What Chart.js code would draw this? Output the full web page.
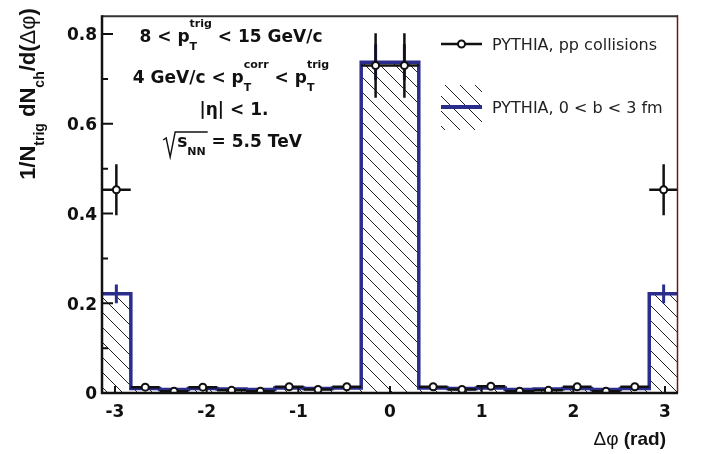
<!DOCTYPE html>
<html>
<head>
<meta charset="utf-8">
<script src="https://cdn.jsdelivr.net/npm/chart.js@4.4.1/dist/chart.umd.min.js"></script>
<style>
    body { margin: 0; background: #fff; }
</style>
</head>
<body>
<canvas id="dphiChart" width="701" height="454"></canvas>
<script>
//-----------Данные-----------
// центры бинов по dphi (20 бинов от -pi до pi)
const binCenters = [-2.985, -2.670, -2.356, -2.042, -1.728, -1.414, -1.100, -0.785, -0.471, -0.157,
                     0.157,  0.471,  0.785,  1.100,  1.414,  1.728,  2.042,  2.356,  2.670,  2.985];
const binHalfWidth = 0.157;

// PYTHIA, pp
const ppValues = [0.453, 0.013, 0.004, 0.013, 0.006, 0.004, 0.014, 0.008, 0.014, 0.730,
                  0.730, 0.014, 0.008, 0.015, 0.004, 0.006, 0.014, 0.004, 0.014, 0.453];
const ppErrors = [0.057, 0.003, 0.003, 0.003, 0.003, 0.003, 0.003, 0.003, 0.003, 0.072,
                  0.072, 0.003, 0.003, 0.003, 0.003, 0.003, 0.003, 0.003, 0.003, 0.057];

// PYTHIA, 0 < b < 3 fm (гистограмма)
const centralValues = [0.221, 0.010, 0.008, 0.010, 0.009, 0.008, 0.011, 0.010, 0.011, 0.737,
                       0.737, 0.011, 0.010, 0.011, 0.008, 0.009, 0.010, 0.008, 0.010, 0.221];
const centralErrors = [0.021, 0.002, 0.002, 0.002, 0.002, 0.002, 0.002, 0.002, 0.002, 0.040,
                       0.040, 0.002, 0.002, 0.002, 0.002, 0.002, 0.002, 0.002, 0.002, 0.021];

// метки осей
const xTickValues = [-3, -2, -1, 0, 1, 2, 3];
const yTickValues = [0, 0.2, 0.4, 0.6, 0.8];
const yMinorTicks = [0.1, 0.3, 0.5, 0.7];

const BLUE = '#2b2d8c';
const INK = '#111';
const BOLD = 'bold 17px "DejaVu Sans"';
const BOLD_SMALL = 'bold 11px "DejaVu Sans"';

//-----------Штриховка-----------
function makeHatch() {
    const s = 15;
    const c = document.createElement('canvas');
    c.width = s; c.height = s;
    const g = c.getContext('2d');
    g.strokeStyle = '#222';
    g.lineWidth = 1;
    for (let k = -1; k <= 1; k++) {
        g.beginPath();
        g.moveTo(k * s, 0);
        g.lineTo(k * s + s, s);
        g.stroke();
    }
    return g.createPattern(c, 'repeat');
}
const hatch = makeHatch();

// точки ступенчатой гистограммы по краям бинов
const histPoints = binCenters.map((c, i) => ({x: c - binHalfWidth, y: centralValues[i]}));
histPoints.push({x: binCenters[binCenters.length - 1] + binHalfWidth, y: centralValues[centralValues.length - 1]});

const ppPoints = binCenters.map((c, i) => ({x: c, y: ppValues[i]}));

//-----------Текст с индексами-----------
function runWidth(ctx, r) {
    if (r.gap) return r.gap;
    ctx.font = r.f;
    if (r.sup !== undefined) return Math.max(ctx.measureText(r.sup).width, ctx.measureText(r.sub || '').width);
    return ctx.measureText(r.t).width;
}

function drawRuns(ctx, x, y, runs, align) {
    const widths = runs.map(r => runWidth(ctx, r));
    const total = widths.reduce((a, b) => a + b, 0);
    let cx = align === 'center' ? x - total / 2 : (align === 'right' ? x - total : x);
    const pos = [];
    ctx.textAlign = 'left';
    ctx.textBaseline = 'alphabetic';
    runs.forEach((r, i) => {
        pos.push(cx);
        if (!r.gap) {
            ctx.font = r.f;
            if (r.sup !== undefined) {
                ctx.fillText(r.sup, cx, y + r.up);
                if (r.sub) ctx.fillText(r.sub, cx, y + r.down);
            } else {
                ctx.fillText(r.t, cx, y + (r.dy || 0));
            }
        }
        cx += widths[i];
    });
    pos.push(cx);
    return pos;
}

//-----------Плагин: рамка, засечки, ошибки, подписи-----------
const decorPlugin = {
    id: 'decor',
    afterDatasetDraw(chart, args) {
        if (args.index !== 1) return;
        const ctx = chart.ctx;
        const xs = chart.scales.x, ys = chart.scales.y;
        const a = chart.chartArea;
        ctx.save();
        ctx.beginPath();
        ctx.rect(a.left, a.top, a.right - a.left, a.bottom - a.top);
        ctx.clip();
        ctx.lineCap = 'butt';
        // ошибки гистограммы
        ctx.strokeStyle = BLUE;
        ctx.lineWidth = 3;
        binCenters.forEach((c, i) => {
            const px = xs.getPixelForValue(c);
            ctx.beginPath();
            ctx.moveTo(px, ys.getPixelForValue(centralValues[i] - centralErrors[i]));
            ctx.lineTo(px, ys.getPixelForValue(centralValues[i] + centralErrors[i]));
            ctx.stroke();
        });
        // ошибки pp
        ctx.strokeStyle = INK;
        ctx.lineWidth = 2.5;
        binCenters.forEach((c, i) => {
            const px = xs.getPixelForValue(c);
            const py = ys.getPixelForValue(ppValues[i]);
            ctx.beginPath();
            ctx.moveTo(px, ys.getPixelForValue(ppValues[i] - ppErrors[i]));
            ctx.lineTo(px, ys.getPixelForValue(ppValues[i] + ppErrors[i]));
            ctx.moveTo(xs.getPixelForValue(c - binHalfWidth), py);
            ctx.lineTo(xs.getPixelForValue(c + binHalfWidth), py);
            ctx.stroke();
        });
        ctx.restore();
    },
    afterDraw(chart) {
        const ctx = chart.ctx;
        const xs = chart.scales.x, ys = chart.scales.y;
        const a = chart.chartArea;
        ctx.save();

        // рамка
        ctx.strokeStyle = '#333';
        ctx.lineWidth = 2;
        ctx.beginPath();
        ctx.moveTo(a.left, a.top + 1);
        ctx.lineTo(a.right, a.top + 1);
        ctx.stroke();
        ctx.strokeStyle = '#6b1818';
        ctx.lineWidth = 1.5;
        ctx.beginPath();
        ctx.moveTo(a.right - 0.5, a.top);
        ctx.lineTo(a.right - 0.5, a.bottom);
        ctx.stroke();
        ctx.strokeStyle = INK;
        ctx.lineWidth = 2.5;
        ctx.beginPath();
        ctx.moveTo(a.left, a.top);
        ctx.lineTo(a.left, a.bottom);
        ctx.lineTo(a.right, a.bottom);
        ctx.stroke();

        // засечки внутрь
        ctx.lineWidth = 2;
        ctx.beginPath();
        yTickValues.forEach(v => {
            const py = ys.getPixelForValue(v);
            ctx.moveTo(a.left, py); ctx.lineTo(a.left + 11, py);
        });
        yMinorTicks.forEach(v => {
            const py = ys.getPixelForValue(v);
            ctx.moveTo(a.left, py); ctx.lineTo(a.left + 6, py);
        });
        xTickValues.forEach(v => {
            const px = xs.getPixelForValue(v);
            ctx.moveTo(px, a.bottom); ctx.lineTo(px, a.bottom - 7);
        });
        ctx.stroke();

        // надписи с условиями
        ctx.fillStyle = INK;
        const cx = 231;
        drawRuns(ctx, cx, 42, [
            {t: '8 < p', f: BOLD},
            {sup: 'trig', sub: 'T', f: BOLD_SMALL, up: -15, down: 8},
            {t: ' < 15 GeV/c', f: BOLD}
        ], 'center');
        drawRuns(ctx, cx, 83, [
            {t: '4 GeV/c < p', f: BOLD},
            {sup: 'corr', sub: 'T', f: BOLD_SMALL, up: -15, down: 8},
            {t: ' < p', f: BOLD},
            {sup: 'trig', sub: 'T', f: BOLD_SMALL, up: -15, down: 8}
        ], 'center');
        drawRuns(ctx, cx + 3, 115, [{t: '|η| < 1.', f: BOLD}], 'center');
        const p4 = drawRuns(ctx, cx + 1, 147, [
            {gap: 15},
            {t: 's', f: BOLD},
            {t: 'NN', f: BOLD_SMALL, dy: 8},
            {t: ' = 5.5 TeV', f: BOLD}
        ], 'center');
        // знак корня
        ctx.strokeStyle = INK;
        ctx.lineWidth = 1.4;
        ctx.beginPath();
        ctx.moveTo(p4[0] + 1, 140);
        ctx.lineTo(p4[0] + 4, 138);
        ctx.lineTo(p4[0] + 8, 157);
        ctx.lineTo(p4[0] + 13, 132);
        ctx.lineTo(p4[3] + 2, 132);
        ctx.stroke();

        // легенда
        ctx.lineWidth = 2.5;
        ctx.strokeStyle = INK;
        ctx.beginPath();
        ctx.moveTo(441, 44); ctx.lineTo(482, 44);
        ctx.stroke();
        ctx.beginPath();
        ctx.arc(461.5, 44, 3.5, 0, Math.PI * 2);
        ctx.fillStyle = '#fff';
        ctx.fill();
        ctx.lineWidth = 2;
        ctx.stroke();
        ctx.fillStyle = hatch;
        ctx.fillRect(441, 85, 41, 45);
        ctx.strokeStyle = BLUE;
        ctx.lineWidth = 4;
        ctx.beginPath();
        ctx.moveTo(441, 107); ctx.lineTo(482, 107);
        ctx.stroke();
        ctx.fillStyle = '#222';
        ctx.font = '16px "DejaVu Sans"';
        ctx.textAlign = 'left';
        ctx.textBaseline = 'alphabetic';
        ctx.fillText('PYTHIA, pp collisions', 492, 50);
        ctx.fillText('PYTHIA, 0 < b < 3 fm', 492, 113);

        // подписи осей
        ctx.fillStyle = INK;
        drawRuns(ctx, 666, 445, [
            {t: 'Δφ', f: '19px "Liberation Sans"'},
            {t: ' (rad)', f: 'bold 19px "Liberation Sans"'}
        ], 'right');
        ctx.translate(35, 94);
        ctx.rotate(-Math.PI / 2);
        drawRuns(ctx, 0, 0, [
            {t: '1/N', f: 'bold 22px "Liberation Sans"'},
            {t: 'trig', f: 'bold 14px "Liberation Sans"', dy: 9},
            {t: ' dN', f: 'bold 22px "Liberation Sans"'},
            {t: 'ch', f: 'bold 14px "Liberation Sans"', dy: 9},
            {t: '/d(', f: 'bold 22px "Liberation Sans"'},
            {t: 'Δφ', f: '22px "Liberation Sans"'},
            {t: ')', f: 'bold 22px "Liberation Sans"'}
        ], 'center');
        ctx.restore();
    }
};

//-----------Построение графика-----------
function BuildChart() {
    const ctx = document.getElementById('dphiChart').getContext('2d');
    return new Chart(ctx, {
        type: 'scatter',
        data: {
            datasets: [{
                label: 'PYTHIA, pp collisions',
                data: ppPoints,
                order: 0,
                showLine: false,
                pointRadius: 3.5,
                pointBorderWidth: 2,
                pointBackgroundColor: '#fff',
                pointBorderColor: INK
            }, {
                label: 'PYTHIA, 0 < b < 3 fm',
                data: histPoints,
                order: 1,
                showLine: true,
                stepped: true,
                fill: 'origin',
                backgroundColor: hatch,
                borderColor: BLUE,
                borderWidth: 3.5,
                pointRadius: 0
            }]
        },
        options: {
            responsive: false,
            animation: false,
            layout: { padding: { top: 3, right: 23, left: 0, bottom: 0 } },
            plugins: {
                legend: { display: false },
                tooltip: { enabled: false }
            },
            scales: {
                x: {
                    type: 'linear',
                    min: -Math.PI,
                    max: Math.PI,
                    afterBuildTicks: s => { s.ticks = xTickValues.map(v => ({value: v})); },
                    afterFit: s => { s.height = 61; },
                    grid: { display: false, drawTicks: false },
                    border: { display: false },
                    ticks: {
                        padding: 9,
                        color: INK,
                        font: { family: 'DejaVu Sans', weight: 'bold', size: 17 },
                        maxRotation: 0,
                        callback: v => String(v)
                    }
                },
                y: {
                    min: 0,
                    max: 0.842,
                    afterBuildTicks: s => { s.ticks = yTickValues.map(v => ({value: v})); },
                    afterFit: s => { s.width = 102; },
                    grid: { display: false, drawTicks: false },
                    border: { display: false },
                    ticks: {
                        padding: 5,
                        labelOffset: 2,
                        color: INK,
                        font: { family: 'DejaVu Sans', weight: 'bold', size: 17 },
                        callback: v => String(+v.toFixed(1))
                    }
                }
            }
        },
        plugins: [decorPlugin]
    });
}

BuildChart();
</script>
</body>
</html>
